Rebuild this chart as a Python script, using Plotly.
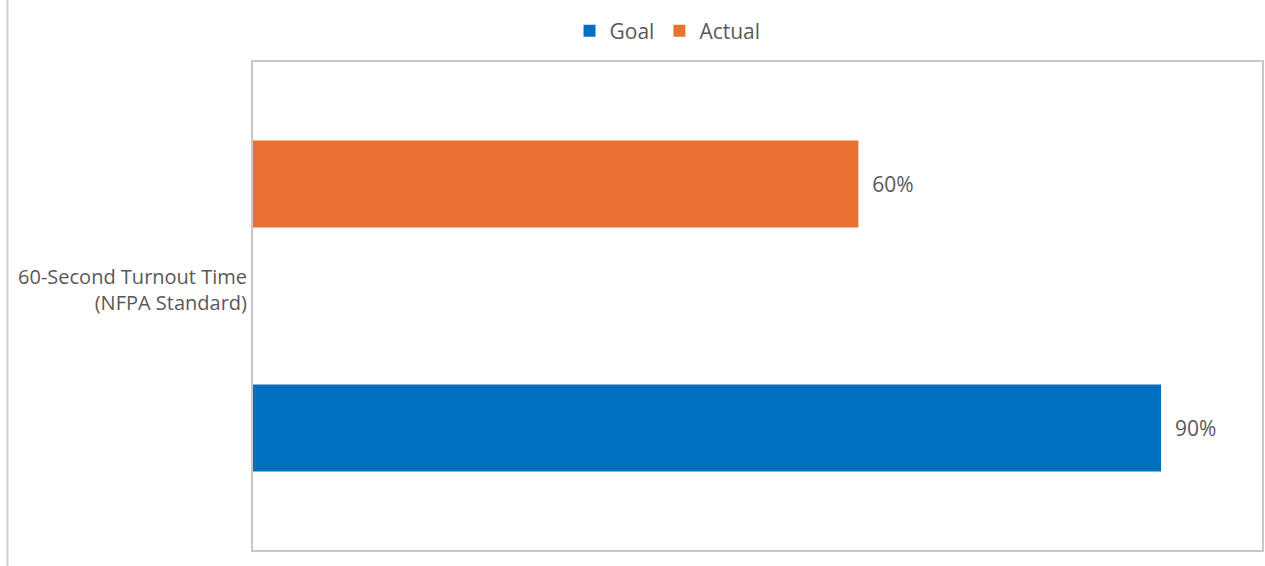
import plotly.graph_objects as go

categories = ["60-Second Turnout Time<br>(NFPA Standard)"]
series_names = ["Goal", "Actual"]
goal_values = [0.90]
actual_values = [0.60]
colors = {"Goal": "#0070C0", "Actual": "#E97132"}

W, H = 1265, 566
ml, mr, mt, mb = 253, 1, 62, 16
FONT = "Open Sans"

fig = go.Figure()
for name, vals in [("Goal", goal_values), ("Actual", actual_values)]:
    fig.add_trace(go.Bar(
        y=categories, x=vals, name=name, orientation="h",
        marker=dict(color=colors[name], line=dict(width=0)),
        text=["  " + f"{v:.0%}" for v in vals],
        textposition="outside",
        textfont=dict(family=FONT, size=21, color="#595959"),
        cliponaxis=False,
    ))

fig.update_layout(
    width=W, height=H,
    margin=dict(l=ml, r=mr, t=mt, b=mb),
    plot_bgcolor="white", paper_bgcolor="white",
    barmode="group", bargap=0.0, bargroupgap=0.643,
    font=dict(family=FONT, size=20, color="#595959"),
    legend=dict(orientation="h", x=0.5277, xanchor="center", y=1 - 31 / H, yanchor="middle",
                yref="container", xref="container",
                font=dict(family=FONT, size=21, color="#595959"),
                itemwidth=30, tracegroupgap=0),
    showlegend=True,
    xaxis=dict(range=[0, 1], showgrid=False, showticklabels=False, zeroline=False,
               showline=True, mirror=True, linecolor="#c8c8c8", linewidth=2, ticks=""),
    yaxis=dict(showgrid=False, zeroline=False, showline=True, mirror=True,
               linecolor="#c8c8c8", linewidth=2, ticks="", ticklabelshift=-16,
               tickfont=dict(family=FONT, size=20, color="#595959")),
    shapes=[dict(type="line", xref="paper", yref="paper",
                 x0=(7 - ml) / (W - ml - mr), x1=(7 - ml) / (W - ml - mr),
                 y0=-mb / (H - mt - mb), y1=1 + mt / (H - mt - mb),
                 line=dict(color="#d0d0d0", width=2))],
)

fig.write_html("out.html", config={"displayModeBar": False},
               post_script="document.body.style.margin='0';document.body.style.overflow='hidden';")
